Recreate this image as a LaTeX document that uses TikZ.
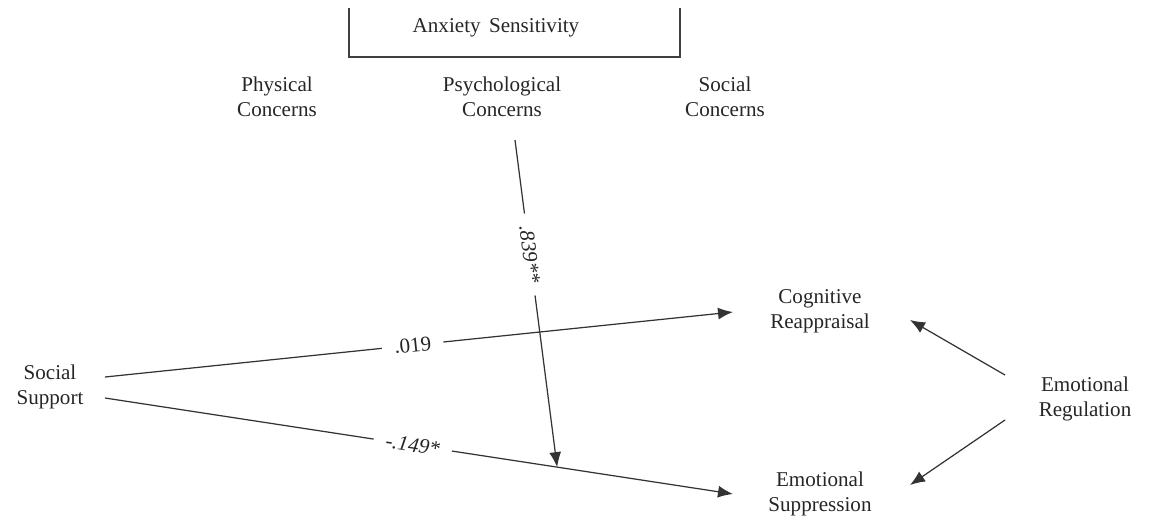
\documentclass[tikz,border=0pt]{standalone}
\usepackage{fontspec}
\setmainfont{Liberation Serif}
\usetikzlibrary{arrows.meta,positioning}

\begin{document}
\begin{tikzpicture}[
    x=0.02cm, y=-0.02cm,
    >={Latex[length=3mm,width=2.4mm]},
    every node/.style={font=\fontsize{12}{14}\selectfont, text=black!85},
    var node/.style={align=center, inner sep=1pt},
    path line/.style={->, draw=black!80, line width=0.7pt},
    coef label/.style={fill=white, sloped, inner xsep=7pt, inner ysep=6pt}
]
\useasboundingbox (0,0) rectangle (1152,525);

% Anxiety sensitivity bracket
\node (anxiety) at (496,28) {Anxiety\hspace{0.4em}Sensitivity};
\draw[draw=black!75, line width=0.7pt] (349,8) -- (349,57) -- (680,57) -- (680,8);

% Subscales
\node[var node] (physical) at (277,97) {Physical\\Concerns};
\node[var node] (psychological) at (502,97) {Psychological\\Concerns};
\node[var node] (socialc) at (725,97) {Social\\Concerns};

% Predictor and outcomes
\node[var node] (support) at (50,387) {Social\\Support};
\node[var node] (reappraisal) at (820,311) {Cognitive\\Reappraisal};
\node[var node] (suppression) at (820,494) {Emotional\\Suppression};
\node[var node] (regulation) at (1085,399) {Emotional\\Regulation};

% Anchors for the connectors
\coordinate (ss top) at (105,377);
\coordinate (ss bot) at (105,398);
\coordinate (cr in) at (733,312);
\coordinate (es in) at (733,494);
\coordinate (pc out) at (515,140);
\coordinate (er top) at (1005,375);
\coordinate (er bot) at (1005,420);
\coordinate (cr right) at (910,320);
\coordinate (es right) at (910,485);
\path (ss bot) -- (es in) coordinate[pos=0.72] (moderation);

% Arrows
\draw[path line] (ss top) -- node[coef label, pos=0.49] {.019} (cr in);
\draw[path line] (ss bot) -- node[coef label, pos=0.49] {\textit{-.149*}} (es in);
\draw[path line] (pc out) -- node[coef label, pos=0.35] {\textit{.839**}} (moderation);
\draw[path line] (er top) -- (cr right);
\draw[path line] (er bot) -- (es right);

\end{tikzpicture}
\end{document}
